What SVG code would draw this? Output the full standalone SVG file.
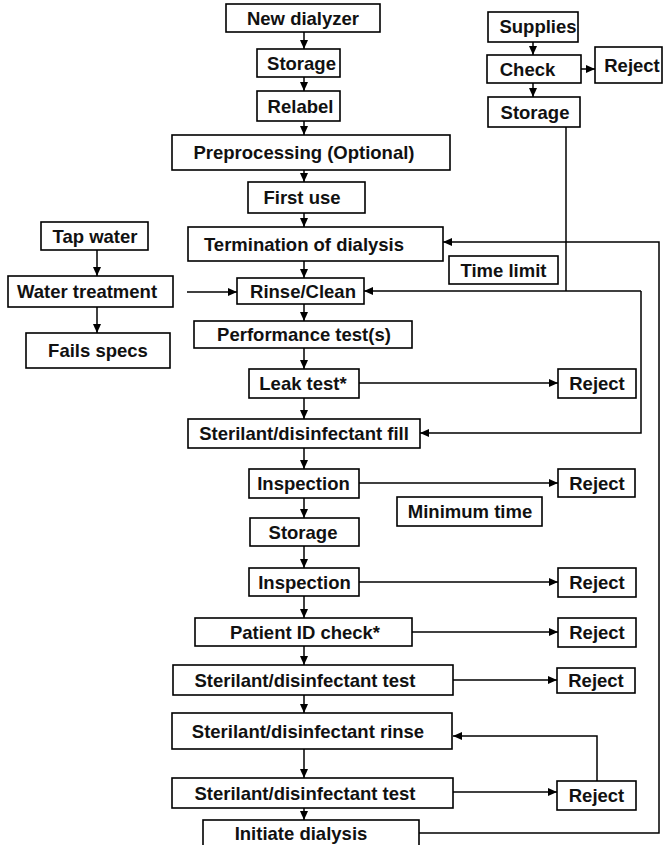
<svg xmlns="http://www.w3.org/2000/svg" width="663" height="845" viewBox="0 0 663 845">
<style>
rect{fill:#fff;stroke:#000;stroke-width:1.6}
text{font-family:"Liberation Sans",Arial,sans-serif;font-size:18.5px;font-weight:bold;fill:#111;text-anchor:middle}
.c path,.c line{fill:none;stroke:#000;stroke-width:1.5}
</style>
<defs>
<marker id="a" markerUnits="userSpaceOnUse" markerWidth="10" markerHeight="10" refX="9" refY="5" orient="auto">
<path d="M0,1 L9,5 L0,9 Z" fill="#000"/>
</marker>
</defs>
<rect x="0" y="0" width="663" height="845" style="stroke:none"/>
<g class="c" id="connectors">
<line x1="304" y1="32" x2="304" y2="49" marker-end="url(#a)"/>
<line x1="304" y1="77" x2="304" y2="91" marker-end="url(#a)"/>
<line x1="304" y1="121" x2="304" y2="135" marker-end="url(#a)"/>
<line x1="304" y1="170" x2="304" y2="182" marker-end="url(#a)"/>
<line x1="304" y1="213" x2="304" y2="227" marker-end="url(#a)"/>
<line x1="304" y1="261" x2="304" y2="278" marker-end="url(#a)"/>
<line x1="304" y1="304" x2="304" y2="321" marker-end="url(#a)"/>
<line x1="304" y1="348" x2="304" y2="369" marker-end="url(#a)"/>
<line x1="304" y1="398" x2="304" y2="419" marker-end="url(#a)"/>
<line x1="304" y1="448" x2="304" y2="469" marker-end="url(#a)"/>
<line x1="304" y1="498" x2="304" y2="518" marker-end="url(#a)"/>
<line x1="304" y1="546" x2="304" y2="568" marker-end="url(#a)"/>
<line x1="304" y1="596" x2="304" y2="618" marker-end="url(#a)"/>
<line x1="304" y1="646" x2="304" y2="665" marker-end="url(#a)"/>
<line x1="304" y1="695" x2="304" y2="713" marker-end="url(#a)"/>
<line x1="304" y1="749" x2="304" y2="778" marker-end="url(#a)"/>
<line x1="304" y1="808" x2="304" y2="820" marker-end="url(#a)"/>
<line x1="359" y1="383" x2="558" y2="383" marker-end="url(#a)"/>
<line x1="359" y1="483" x2="558" y2="483" marker-end="url(#a)"/>
<line x1="359" y1="582" x2="558" y2="582" marker-end="url(#a)"/>
<line x1="412" y1="632" x2="558" y2="632" marker-end="url(#a)"/>
<line x1="453" y1="680" x2="557" y2="680" marker-end="url(#a)"/>
<line x1="453" y1="792" x2="557" y2="792" marker-end="url(#a)"/>
<path d="M597,781 V736 H453" marker-end="url(#a)"/>
<path d="M419,833 H659 V242 H443" marker-end="url(#a)"/>
<line x1="566" y1="127" x2="566" y2="291"/>
<path d="M641,291 H364" marker-end="url(#a)"/>
<path d="M641,291 V433 H420" marker-end="url(#a)"/>
<line x1="187" y1="292" x2="237" y2="292" marker-end="url(#a)"/>
<line x1="97" y1="250" x2="97" y2="276" marker-end="url(#a)"/>
<line x1="97" y1="307" x2="97" y2="333" marker-end="url(#a)"/>
<line x1="533" y1="42" x2="533" y2="55" marker-end="url(#a)"/>
<line x1="533" y1="83" x2="533" y2="97" marker-end="url(#a)"/>
<line x1="581" y1="69" x2="595" y2="69" marker-end="url(#a)"/>
</g>
<g id="new-dialyzer"><rect x="226" y="4" width="154" height="28"/><text x="303" y="24.5">New dialyzer</text></g>
<g id="storage1"><rect x="257" y="49" width="83" height="28"/><text x="301.5" y="69.5">Storage</text></g>
<g id="relabel"><rect x="257" y="91" width="83" height="30"/><text x="300.5" y="112.5">Relabel</text></g>
<g id="preprocessing"><rect x="172" y="135" width="278" height="35"/><text x="304" y="159">Preprocessing (Optional)</text></g>
<g id="first-use"><rect x="248" y="182" width="117" height="31"/><text x="302" y="204">First use</text></g>
<g id="termination"><rect x="188" y="227" width="255" height="34"/><text x="304" y="250.5">Termination of dialysis</text></g>
<g id="time-limit"><rect x="449" y="256" width="109" height="28"/><text x="503.5" y="276.5">Time limit</text></g>
<g id="rinse-clean"><rect x="237" y="278" width="127" height="26"/><text x="303" y="297.5">Rinse/Clean</text></g>
<g id="performance"><rect x="194" y="321" width="218" height="27"/><text x="304" y="341">Performance test(s)</text></g>
<g id="leak-test"><rect x="249" y="369" width="110" height="29"/><text x="303" y="390">Leak test*</text></g>
<g id="reject-leak"><rect x="558" y="369" width="78" height="29"/><text x="597" y="390">Reject</text></g>
<g id="sterilant-fill"><rect x="188" y="419" width="232" height="29"/><text x="304" y="440">Sterilant/disinfectant fill</text></g>
<g id="inspection1"><rect x="249" y="469" width="110" height="29"/><text x="303.5" y="490">Inspection</text></g>
<g id="reject-insp1"><rect x="558" y="469" width="77" height="28"/><text x="597" y="489.5">Reject</text></g>
<g id="minimum-time"><rect x="397" y="497" width="145" height="29"/><text x="470" y="518">Minimum time</text></g>
<g id="storage2"><rect x="250" y="518" width="109" height="28"/><text x="303" y="538.5">Storage</text></g>
<g id="inspection2"><rect x="249" y="568" width="110" height="28"/><text x="304.5" y="588.5">Inspection</text></g>
<g id="reject-insp2"><rect x="558" y="568" width="78" height="29"/><text x="597" y="589">Reject</text></g>
<g id="patient-id"><rect x="195" y="618" width="217" height="28"/><text x="305" y="638.5">Patient ID check*</text></g>
<g id="reject-pid"><rect x="558" y="618" width="78" height="29"/><text x="597" y="639">Reject</text></g>
<g id="sterilant-test1"><rect x="173" y="665" width="280" height="30"/><text x="305" y="686.5">Sterilant/disinfectant test</text></g>
<g id="reject-st1"><rect x="557" y="668" width="78" height="25"/><text x="596" y="687">Reject</text></g>
<g id="sterilant-rinse"><rect x="172" y="713" width="280" height="36"/><text x="308" y="737.5">Sterilant/disinfectant rinse</text></g>
<g id="sterilant-test2"><rect x="172" y="778" width="281" height="30"/><text x="305" y="799.5">Sterilant/disinfectant test</text></g>
<g id="reject-st2"><rect x="557" y="781" width="79" height="29"/><text x="596.5" y="802">Reject</text></g>
<g id="initiate-dialysis"><rect x="203" y="820" width="216" height="40"/><text x="301" y="840">Initiate dialysis</text></g>
<g id="supplies"><rect x="488" y="12" width="90" height="30"/><text x="538" y="33">Supplies</text></g>
<g id="check"><rect x="487" y="55" width="94" height="28"/><text x="527.5" y="75.5">Check</text></g>
<g id="reject-check"><rect x="595" y="47" width="67" height="36"/><text x="632" y="71.5">Reject</text></g>
<g id="storage-supplies"><rect x="488" y="97" width="92" height="30"/><text x="535" y="118.5">Storage</text></g>
<g id="tap-water"><rect x="41" y="222" width="107" height="28"/><text x="95" y="242.5">Tap water</text></g>
<g id="water-treatment"><rect x="8" y="276" width="165" height="31"/><text x="87" y="298">Water treatment</text></g>
<g id="fails-specs"><rect x="26" y="333" width="144" height="35"/><text x="98" y="357">Fails specs</text></g>
</svg>
